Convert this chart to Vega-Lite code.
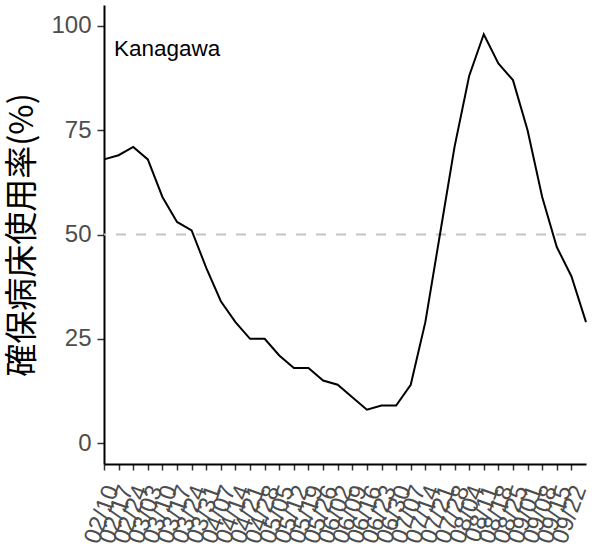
{
  "$schema": "https://vega.github.io/schema/vega-lite/v6.json",
  "width": 482,
  "height": 459,
  "autosize": "none",
  "padding": {"top": 5, "left": 104, "right": 10, "bottom": 84},
  "background": "white",
  "config": {"view": {"stroke": null}, "font": "Liberation Sans"},
  "datasets": {
    "occ": [
      {"date": "02/10", "value": 68},
      {"date": "02/17", "value": 69},
      {"date": "02/24", "value": 71},
      {"date": "03/03", "value": 68},
      {"date": "03/10", "value": 59},
      {"date": "03/17", "value": 53},
      {"date": "03/24", "value": 51},
      {"date": "03/31", "value": 42},
      {"date": "04/07", "value": 34},
      {"date": "04/14", "value": 29},
      {"date": "04/21", "value": 25},
      {"date": "04/28", "value": 25},
      {"date": "05/05", "value": 21},
      {"date": "05/12", "value": 18},
      {"date": "05/19", "value": 18},
      {"date": "05/26", "value": 15},
      {"date": "06/02", "value": 14},
      {"date": "06/09", "value": 11},
      {"date": "06/16", "value": 8},
      {"date": "06/23", "value": 9},
      {"date": "06/30", "value": 9},
      {"date": "07/07", "value": 14},
      {"date": "07/14", "value": 29},
      {"date": "07/21", "value": 50},
      {"date": "07/28", "value": 71},
      {"date": "08/04", "value": 88},
      {"date": "08/11", "value": 98},
      {"date": "08/18", "value": 91},
      {"date": "08/25", "value": 87},
      {"date": "09/01", "value": 75},
      {"date": "09/08", "value": 59},
      {"date": "09/15", "value": 47},
      {"date": "09/22", "value": 40},
      {"date": "09/29", "value": 29}
    ]
  },
  "layer": [
    {
      "data": {"values": [{"threshold": 50}]},
      "mark": {"type": "rule", "color": "#C4C4C4", "strokeWidth": 2, "strokeDash": [10, 10]},
      "encoding": {"y": {"field": "threshold", "type": "quantitative"}}
    },
    {
      "data": {"name": "occ"},
      "mark": {"type": "line", "color": "black", "strokeWidth": 2},
      "encoding": {
        "x": {
          "field": "date",
          "type": "ordinal",
          "sort": null,
          "scale": {"type": "point", "padding": 0},
          "axis": {
            "title": null,
            "values": ["02/10","02/17","02/24","03/03","03/10","03/17","03/24","03/31","04/07","04/14","04/21","04/28","05/05","05/12","05/19","05/26","06/02","06/09","06/16","06/23","06/30","07/07","07/14","07/21","07/28","08/04","08/11","08/18","08/25","09/01","09/08","09/15","09/22"],
            "labelAngle": -70,
            "labelAlign": "right",
            "labelBaseline": "middle",
            "labelFontSize": 24,
            "labelColor": "#4D4D4D",
            "labelOverlap": false,
            "labelPadding": 16,
            "labelOffset": 8,
            "tickSize": 6,
            "tickWidth": 1.5,
            "tickColor": "#333333",
            "domainColor": "black",
            "domainWidth": 2,
            "grid": false
          }
        },
        "y": {
          "field": "value",
          "type": "quantitative",
          "scale": {"domain": [-5, 105], "nice": false, "zero": false},
          "axis": {
            "title": "確保病床使用率(%)",
            "titleFont": "Noto Sans CJK JP",
            "titleFontSize": 33,
            "titleFontWeight": "normal",
            "titleColor": "black",
            "titlePadding": 11,
            "values": [0, 25, 50, 75, 100],
            "labelFontSize": 24,
            "labelColor": "#4D4D4D",
            "labelPadding": 6,
            "tickSize": 7,
            "tickWidth": 1.5,
            "tickColor": "#333333",
            "domainColor": "black",
            "domainWidth": 2,
            "grid": false
          }
        }
      }
    },
    {
      "data": {"values": [{"date": "02/10", "value": 94.5, "label": "Kanagawa"}]},
      "mark": {"type": "text", "align": "left", "baseline": "middle", "dx": 10, "fontSize": 22.5, "color": "black", "font": "Liberation Sans"},
      "encoding": {
        "x": {"field": "date", "type": "ordinal", "sort": null},
        "y": {"field": "value", "type": "quantitative"},
        "text": {"field": "label"}
      }
    }
  ]
}
